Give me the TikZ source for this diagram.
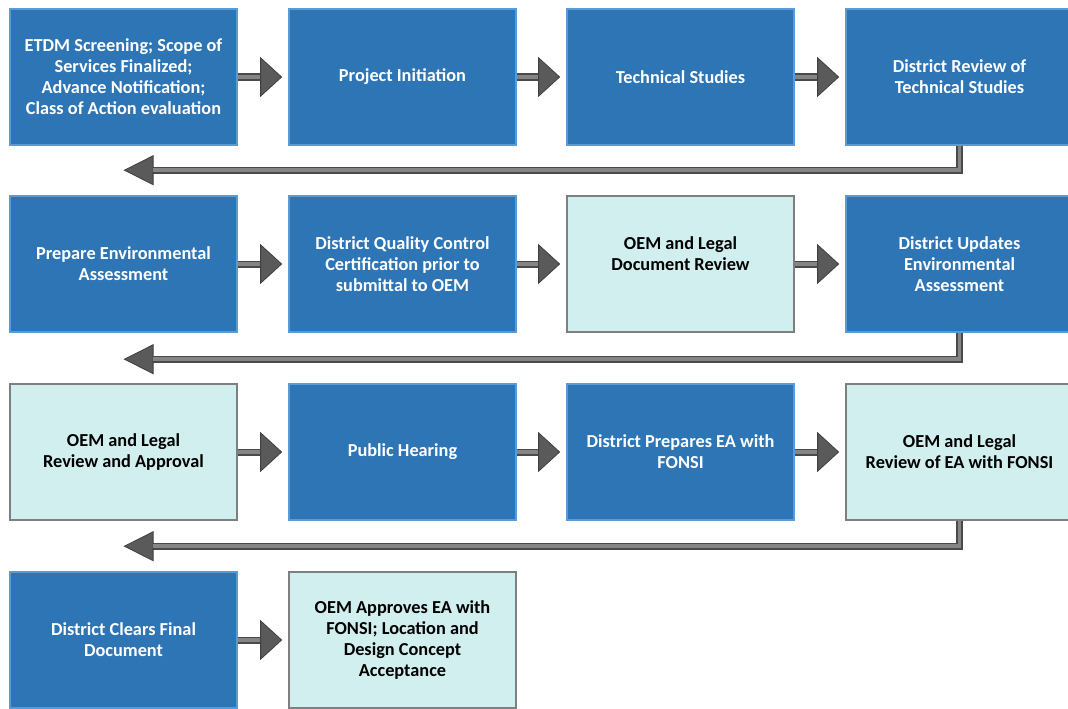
\documentclass[tikz,border=0pt]{standalone}
\usepackage{fontspec}
\setmainfont{Carlito}
\usetikzlibrary{arrows.meta}
\definecolor{boxblue}{HTML}{2E75B6}
\definecolor{edgeblue}{HTML}{5B9BD5}
\definecolor{boxlight}{HTML}{D0EFEE}
\definecolor{edgegray}{HTML}{7F7F7F}
\definecolor{shaftgray}{HTML}{858585}
\definecolor{shaftedge}{HTML}{4A4A4A}
\definecolor{tipgray}{HTML}{5A5A5A}
\begin{document}
\begin{tikzpicture}[x=1pt, y=-1pt,
	box/.style={minimum width=227pt, minimum height=136pt, align=center, line width=1.6pt, font=\bfseries\fontsize{18.3}{21}\selectfont},
	main/.style={box, fill=boxblue, draw=edgeblue, text=white},
	review/.style={box, fill=boxlight, draw=edgegray, text=black},
	fwd/.style={preaction={draw=shaftedge, line width=7pt, shorten >=6pt, -{Triangle[length=22pt, width=40pt, line width=0.8pt, color=black!75, fill=tipgray]}}, draw=shaftgray, line width=3.6pt, shorten >=28pt},
	ret/.style={preaction={draw=shaftedge, line width=7pt, line join=miter, shorten >=0pt, -{Triangle[length=30pt, width=30pt, line width=0.8pt, color=black!75, fill=tipgray]}}, draw=shaftgray, line width=3.6pt, line join=miter, shorten >=29pt}]
	\useasboundingbox (0,0) rectangle (1068,709);
	\clip (0,0) rectangle (1068,709);
	% row 1
	\node[main] (A1) at (123.5,77) {ETDM Screening; Scope of\\Services Finalized;\\Advance Notification;\\Class of Action evaluation};
	\node[main] (A2) at (402.5,77) {Project Initiation};
	\node[main] (A3) at (680.5,77) {Technical Studies};
	\node[main] (A4) at (959.5,77) {District Review of\\Technical Studies};
	% row 2
	\node[main] (B1) at (123.5,264) {Prepare Environmental\\Assessment};
	\node[main] (B2) at (402.5,264) {District Quality Control\\Certification prior to\\submittal to OEM};
	\node[review] (B3) at (680.5,264) {OEM and Legal\\Document Review\\~};
	\node[main] (B4) at (959.5,264) {District Updates\\Environmental\\Assessment};
	% row 3
	\node[review] (C1) at (123.5,452) {OEM and Legal\\Review and Approval};
	\node[main] (C2) at (402.5,452) {Public Hearing};
	\node[main] (C3) at (680.5,452) {District Prepares EA with\\FONSI};
	\node[review] (C4) at (959.5,452) {OEM and Legal\\Review of EA with FONSI};
	% row 4
	\node[main] (D1) at (123.5,640) {District Clears Final\\Document};
	\node[review] (D2) at (402.5,640) {OEM Approves EA with\\FONSI; Location and\\Design Concept\\Acceptance};
	% arrows
	\draw[fwd] (A1) -- (A2);
	\draw[fwd] (A2) -- (A3);
	\draw[fwd] (A3) -- (A4);
	\draw[ret] (A4.south) |- ([yshift=25pt]B1.north);
	\draw[fwd] (B1) -- (B2);
	\draw[fwd] (B2) -- (B3);
	\draw[fwd] (B3) -- (B4);
	\draw[ret] (B4.south) |- ([yshift=24pt]C1.north);
	\draw[fwd] (C1) -- (C2);
	\draw[fwd] (C2) -- (C3);
	\draw[fwd] (C3) -- (C4);
	\draw[ret] (C4.south) |- ([yshift=25pt]D1.north);
	\draw[fwd] (D1) -- (D2);
\end{tikzpicture}
\end{document}
